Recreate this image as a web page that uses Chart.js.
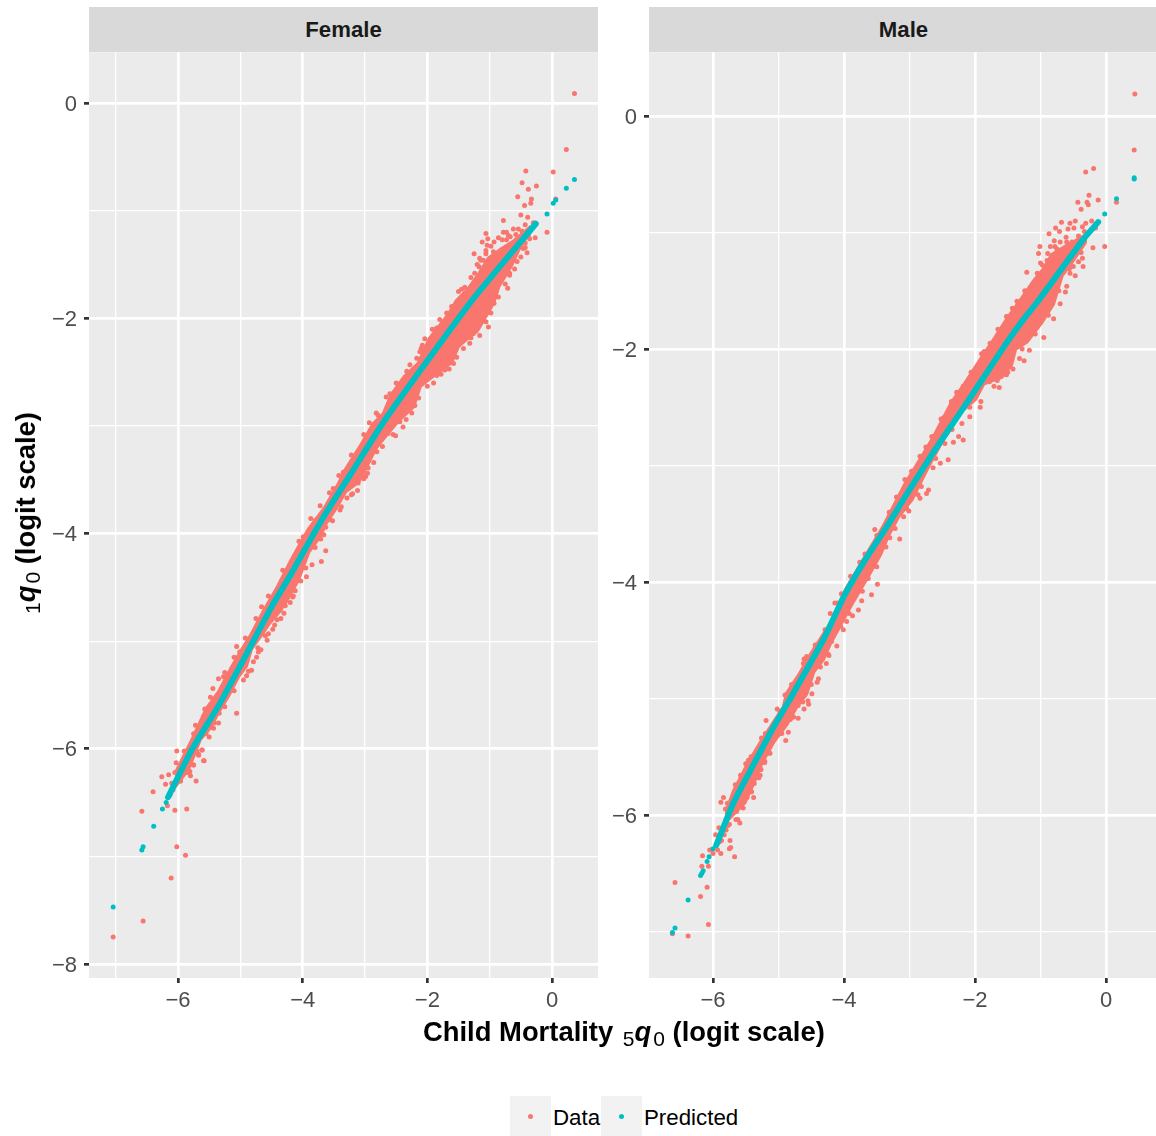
<!DOCTYPE html>
<html lang="en">
<head>
<meta charset="UTF-8">
<title>Child mortality vs infant mortality</title>
<script src="https://cdn.jsdelivr.net/npm/chart.js@4/dist/chart.umd.min.js"></script>
<style>
html, body { overflow: hidden; }
body { margin: 0; background: #fff; font-family: "Liberation Sans", Arial, sans-serif; }
canvas { position: absolute; }
.strip { position: absolute; top: 7px; height: 45px; line-height: 45px; background: #D9D9D9; color: #1A1A1A; font-size: 22.2px; font-weight: bold; text-align: center; }
.title { position: absolute; color: #000; font-size: 27.4px; font-weight: bold; white-space: pre; line-height: 32px; }
.title sub { font-size: 21px; font-weight: normal; vertical-align: -5px; line-height: 0; margin: 0 0 0 2px; }
.title i { font-weight: bold; font-style: italic; }
.key { position: absolute; top: 1096px; width: 41px; height: 40px; background: #F2F2F2; }
.key span { position: absolute; left: 18px; top: 18px; width: 5px; height: 5px; border-radius: 50%; }
.lab { position: absolute; top: 1105px; font-size: 22.3px; line-height: 26px; color: #000; }
</style>
</head>
<body>
<canvas id="female" style="left:40px;top:32px"></canvas>
<canvas id="male" style="left:600px;top:32px"></canvas>
<div class="strip" style="left:89px;width:509px">Female</div>
<div class="strip" style="left:649px;width:507px;text-indent:2px">Male</div>
<div class="title" style="left:423px;top:1016px">Child Mortality <sub>5</sub><i>q</i><sub>0</sub> (logit scale)</div>
<div class="title" style="left:26px;top:514px;transform:translate(-50%,-50%) rotate(-90deg)"><sub>1</sub><i>q</i><sub>0</sub> (logit scale)</div>
<div class="key" style="left:510px"><span style="background:#F8766D"></span></div>
<div class="lab" style="left:553px">Data</div>
<div class="key" style="left:601px"><span style="background:#00BFC4"></span></div>
<div class="lab" style="left:644px">Predicted</div>
<script>
// axis ticks
const femaleXTicks = [-7, -6, -5, -4, -3, -2, -1, 0];
const femaleYTicks = [-8, -7, -6, -5, -4, -3, -2, -1, 0];
const maleXTicks = [-6, -5, -4, -3, -2, -1, 0];
const maleYTicks = [-7, -6, -5, -4, -3, -2, -1, 0];

// Female: predicted
const femalePredictedBand = [[-6.16,-6.45],[-5.78,-6.01],[-5.33,-5.58],[-4.93,-5.15],[-4.48,-4.66],[-4.20,-4.39],[-3.93,-4.11],[-3.67,-3.85],[-3.19,-3.41],[-2.71,-2.97],[-2.07,-2.45],[-1.28,-1.83],[-0.26,-1.12]];
const femalePredictedTail = [[-7.04,-7.47],[-6.58,-6.94],[-6.56,-6.91],[-6.39,-6.72],[-6.25,-6.56],[-6.19,-6.50],[-0.08,-1.03],[0.02,-0.93],[0.06,-0.90],[0.23,-0.79],[0.36,-0.71]];

// Female: outline of the solid part of the data cloud
const femaleCloudUpper = [[-6.05,-6.20],[-5.81,-5.92],[-5.65,-5.72],[-5.57,-5.62],[-5.37,-5.46],[-5.17,-5.24],[-5.01,-5.08],[-4.85,-4.93],[-4.65,-4.71],[-4.44,-4.50],[-4.20,-4.23],[-3.93,-3.95],[-3.67,-3.75],[-3.45,-3.53],[-3.35,-3.41],[-3.08,-3.16],[-2.89,-2.97],[-2.73,-2.88],[-2.60,-2.70],[-2.39,-2.53],[-2.17,-2.41],[-1.99,-2.18],[-1.68,-1.95],[-1.56,-1.83],[-1.36,-1.71],[-1.20,-1.58],[-1.04,-1.43],[-0.83,-1.34],[-0.63,-1.27],[-0.35,-1.13]];
const femaleCloudLower = [[-6.05,-6.38],[-5.81,-6.20],[-5.62,-5.92],[-5.45,-5.81],[-5.33,-5.67],[-5.17,-5.52],[-5.01,-5.34],[-4.88,-5.24],[-4.80,-5.08],[-4.65,-4.96],[-4.52,-4.85],[-4.36,-4.74],[-4.25,-4.65],[-4.04,-4.43],[-3.88,-4.18],[-3.69,-4.03],[-3.61,-3.92],[-3.45,-3.78],[-3.29,-3.62],[-3.08,-3.53],[-2.92,-3.35],[-2.81,-3.22],[-2.60,-3.07],[-2.44,-2.96],[-2.20,-2.83],[-2.09,-2.64],[-1.85,-2.53],[-1.59,-2.42],[-1.48,-2.27],[-1.16,-2.11],[-0.91,-1.86],[-0.83,-1.71],[-0.63,-1.52],[-0.51,-1.37],[-0.35,-1.21]];

// Female: separate data points around the cloud
const femaleData = [
  [0.36,0.09],[0.23,-0.43],[0.02,-0.64],[-0.42,-0.63],[-0.48,-0.74],[-0.38,-0.80],[-0.25,-0.77],[-0.55,-0.87],[-0.33,-0.89],[-0.34,-0.93],
  [-0.44,-0.95],[0.06,-0.89],[-0.50,-1.04],[-0.39,-1.06],[-0.78,-1.09],[-0.43,-1.13],[-0.30,-1.11],[-0.08,-1.20],[-0.27,-1.25],[-0.36,-1.26],
  [-0.54,-1.17],[-0.48,-1.19],[-1.06,-1.21],[-0.78,-1.20],[-0.73,-1.20],[-0.86,-1.25],[-1.12,-1.29],[-1.03,-1.26],[-0.93,-1.29],[-1.04,-1.32],
  [-1.25,-1.40],[-1.06,-1.40],[-1.16,-1.44],[-1.17,-1.52],[-0.40,-1.39],[-0.43,-1.34],[-0.50,-1.43],[-0.60,-1.54],[-0.68,-1.60],[-0.71,-1.72],
  [-0.93,-1.86],[-1.61,-1.89],[-1.40,-1.71],[-1.24,-1.58],[-1.10,-1.46],[-0.94,-1.38],[-0.89,-1.74],[-0.78,-1.61],[-0.62,-1.46],[-0.46,-1.35],
  [-0.73,-1.27],[-0.57,-1.27],[-0.67,-1.24],
  [-7.04,-7.75],[-6.56,-7.60],[-6.11,-7.20],[-5.88,-6.99],[-6.02,-6.91],[-6.58,-6.58],[-6.17,-6.53],[-6.05,-6.57],[-5.86,-6.56],[-6.40,-6.40],
  [-6.26,-6.26],[-6.15,-6.24],[-6.20,-6.33],[-6.10,-6.32],[-6.05,-6.22],[-5.96,-6.30],[-5.71,-6.30],[-5.80,-6.25],[-5.81,-6.21],[-5.90,-6.21],
  [-5.75,-6.15],[-6.03,-6.13],[-5.59,-6.11],[-5.67,-6.05],[-5.61,-6.01],[-6.02,-6.02],[-6.08,-6.38],[-6.13,-6.43],
  [-5.06,-5.67],[-5.44,-5.44],[-5.35,-5.35],[-5.25,-5.29],[-5.06,-5.05],[-5.01,-5.10],[-4.90,-5.32],[-4.82,-5.27],[-4.79,-5.19],[-4.74,-5.15],
  [-4.71,-5.10],[-4.67,-5.08],[-4.57,-4.99],[-4.55,-4.93],[-4.48,-4.89],[-4.41,-4.80],[-4.35,-4.79],[-4.36,-4.71],[-4.28,-4.67],[-4.20,-4.64],
  [-5.35,-5.76],[-5.34,-5.67],[-5.43,-5.81],[-5.55,-5.86],[-5.62,-6.01],[-5.67,-6.06],[-5.58,-6.11],[-5.75,-6.15],[-5.75,-5.86],[-5.59,-5.70],
  [-5.57,-5.63],[-4.66,-4.68],[-4.80,-4.93],
  [-2.96,-3.44],[-3.02,-3.49],[-3.20,-3.63],[-3.29,-3.67],[-3.40,-3.78],[-3.56,-3.87],[-3.63,-3.94],[-3.71,-4.05],[-3.63,-4.16],[-3.70,-4.26],
  [-3.85,-4.29],[-3.94,-4.40],[-4.03,-4.44],[-4.12,-4.53],[-4.16,-4.59],[-3.99,-4.03],[-4.09,-4.17],[-3.80,-3.88],[-3.51,-3.58],[-3.11,-3.53],
  [-2.51,-3.09],[-2.39,-3.01],[-1.72,-2.48],[-1.85,-2.53],[-1.02,-2.08],[-1.32,-2.23],[-1.16,-2.16],[-0.94,-1.86],[-1.10,-2.02],[-2.95,-3.39],
  [-2.04,-2.19],[-2.08,-2.25],[-2.12,-2.31],[-2.17,-2.37],[-2.33,-2.49],[-2.60,-2.70],[-2.79,-2.90],[-2.91,-3.04],[-3.16,-3.29],[-3.35,-3.43],
  [-1.69,-1.95],[-1.85,-2.09],[-1.58,-2.42],[-1.61,-2.36],[-1.26,-2.14],[-1.48,-2.19],[-2.09,-2.57],[-2.20,-2.81],[-2.44,-2.96],[-2.63,-3.07],[-2.81,-3.24],
  [-5.90,-6.02],[-5.72,-5.78],[-5.48,-5.52],[-5.27,-5.33],[-5.10,-5.15],[-4.92,-4.97],[-4.75,-4.79],[-4.55,-4.58],[-4.32,-4.34],[-4.06,-4.07],
  [-3.87,-3.86],[-3.72,-3.74],[-3.57,-3.62],[-3.42,-3.46],[-3.22,-3.27],[-3.02,-3.08],[-2.93,-2.97],[-2.82,-2.88],[-2.66,-2.73],[-2.50,-2.60],
  [-2.28,-2.43],[-2.10,-2.28],[-1.92,-2.10],[-1.80,-2.01],[-1.50,-1.75],[-1.45,-1.73],[-1.30,-1.62],[-1.14,-1.46],[-1.20,-1.50],[-0.98,-1.33],
  [-1.06,-1.37],[-0.80,-1.27],[-0.70,-1.23],[-0.62,-1.17],[-0.58,-1.22],
  [-5.96,-6.30],[-5.85,-6.22],[-5.70,-6.02],[-5.50,-5.89],[-5.42,-5.76],[-5.25,-5.61],[-5.10,-5.46],[-4.95,-5.36],[-4.87,-5.28],[-4.72,-5.06],
  [-4.60,-4.95],[-4.45,-4.85],[-4.30,-4.74],[-4.15,-4.58],[-3.95,-4.32],[-3.80,-4.13],[-3.66,-4.01],[-3.52,-3.88],[-3.38,-3.75],[-3.22,-3.64],
  [-3.12,-3.60],[-2.99,-3.47],[-2.86,-3.34],[-2.72,-3.19],[-2.55,-3.08],[-2.34,-2.94],[-2.25,-2.88],[-2.14,-2.74],[-2.00,-2.63],[-1.90,-2.60],
  [-1.78,-2.52],[-1.65,-2.47],[-1.53,-2.36],[-1.42,-2.28],[-1.30,-2.18],[-1.22,-2.12],[-1.06,-2.03],[-0.98,-1.95],[-0.86,-1.80],[-0.75,-1.68],
  [-0.68,-1.58],[-0.56,-1.47],[-0.43,-1.30],[-0.38,-1.23]
];

// Male: predicted
const malePredictedBand = [[-5.95,-6.26],[-5.69,-5.90],[-5.44,-5.63],[-5.10,-5.27],[-4.80,-4.98],[-4.32,-4.50],[-3.98,-4.10],[-3.71,-3.84],[-3.32,-3.50],[-3.07,-3.27],[-2.64,-2.89],[-2.34,-2.64],[-1.97,-2.33],[-1.51,-1.94],[-1.24,-1.73],[-1.04,-1.59],[-0.35,-1.06],[-0.12,-0.91]];
const malePredictedTail = [[-6.62,-7.01],[-6.58,-6.97],[-6.38,-6.73],[-6.19,-6.52],[-6.17,-6.50],[-6.15,-6.48],[-6.09,-6.40],[-6.06,-6.36],[-6.00,-6.29],[-0.02,-0.84],[0.16,-0.71],[0.43,-0.53],[0.43,-0.54]];

// Male: outline of the solid part of the data cloud
const maleCloudUpper = [[-5.82,-5.96],[-5.71,-5.79],[-5.49,-5.55],[-5.31,-5.38],[-5.08,-5.18],[-4.95,-5.07],[-4.90,-4.95],[-4.70,-4.78],[-4.52,-4.60],[-4.37,-4.47],[-4.21,-4.33],[-4.01,-4.07],[-3.76,-3.83],[-3.60,-3.68],[-3.42,-3.51],[-3.20,-3.27],[-3.09,-3.15],[-2.84,-2.92],[-2.66,-2.75],[-2.38,-2.45],[-2.18,-2.29],[-1.95,-2.09],[-1.77,-1.94],[-1.52,-1.72],[-1.34,-1.58],[-1.13,-1.41],[-0.96,-1.29],[-0.85,-1.18],[-0.65,-1.11],[-0.29,-1.00]];
const maleCloudLower = [[-5.82,-6.09],[-5.59,-5.96],[-5.49,-5.90],[-5.33,-5.70],[-5.23,-5.56],[-5.05,-5.38],[-4.85,-5.23],[-4.70,-5.08],[-4.55,-4.97],[-4.44,-4.78],[-4.29,-4.67],[-4.19,-4.54],[-3.86,-4.20],[-3.60,-3.95],[-3.42,-3.77],[-3.30,-3.61],[-3.15,-3.45],[-2.94,-3.30],[-2.71,-3.04],[-2.49,-2.81],[-2.20,-2.55],[-1.97,-2.44],[-1.85,-2.31],[-1.57,-2.25],[-1.42,-2.14],[-1.36,-2.01],[-1.19,-1.95],[-0.96,-1.78],[-0.78,-1.62],[-0.65,-1.38],[-0.47,-1.24],[-0.29,-1.09]];

// Male: separate data points around the cloud
const maleData = [
  [-6.62,-7.02],[-6.38,-7.04],[-6.07,-6.94],[-6.19,-6.70],[-6.09,-6.62],[-6.58,-6.58],[-6.07,-6.44],[-6.17,-6.44],[-6.16,-6.35],[-5.67,-6.36],
  [-6.00,-6.33],[-5.88,-6.33],[-6.05,-6.30],[-5.93,-6.30],[-5.75,-6.29],[-5.73,-6.28],[-5.74,-6.22],[-5.87,-6.22],[-5.90,-6.23],[-5.83,-6.17],
  [-5.96,-6.17],[-5.80,-6.13],[-5.91,-6.11],[-5.77,-6.09],[-5.59,-6.07],[-5.65,-6.04],[-5.80,-6.04],[-5.64,-5.97],[-5.77,-5.96],[-5.81,-5.95],
  [-5.88,-5.89],[-5.84,-5.85],[-5.53,-5.89],[-5.38,-5.85],[-5.48,-5.85],[-5.42,-5.80],[-5.30,-5.68],[-5.37,-5.73],[-5.27,-5.61],[-5.50,-5.56],[-5.21,-5.55],
  [-4.11,-4.55],[-4.23,-4.63],[-4.27,-4.70],[-4.61,-4.66],[-4.39,-4.83],[-4.41,-4.86],[-4.49,-4.96],[-4.55,-5.02],[-4.54,-5.05],[-4.61,-5.09],
  [-4.70,-5.06],[-4.70,-5.17],[-4.77,-5.16],[-4.89,-5.36],[-4.85,-5.29],[-5.19,-5.19],[-5.13,-5.47],[-5.21,-5.54],[-5.27,-5.61],[-5.31,-5.68],
  [-5.46,-5.53],[-4.90,-4.97],[-4.62,-4.78],[-4.57,-4.64],[-4.98,-5.11],[-5.26,-5.34],[-4.82,-5.18],
  [-3.15,-3.63],[-3.49,-4.02],[-3.58,-4.11],[-3.73,-4.16],[-3.78,-4.24],[-3.87,-4.29],[-3.96,-4.34],[-4.01,-4.41],[-4.14,-4.18],[-4.04,-4.10],
  [-3.01,-3.39],[-3.09,-3.44],[-2.84,-3.28],[-2.74,-3.24],[-2.87,-3.25],[-3.53,-3.55],[-3.63,-3.97],[-3.76,-3.83],[-3.30,-3.62],[-4.19,-4.51],[-3.20,-3.27],[-4.21,-4.27],
  [-0.95,-1.90],[-1.17,-2.01],[-1.25,-2.10],[-1.32,-2.08],[-1.63,-2.33],[-1.71,-2.32],[-1.92,-2.50],[-1.91,-2.45],[-2.41,-2.95],[-2.18,-2.78],
  [-2.33,-2.80],[-2.08,-2.58],[-2.20,-2.64],[-2.25,-2.75],[-1.90,-2.04],[-1.92,-2.11],[-1.52,-1.72],[-1.77,-1.95],[-1.64,-1.87],[-1.36,-1.59],
  [-2.18,-2.32],[-2.36,-2.45],[-2.48,-2.59],[-2.66,-2.75],[-2.84,-2.92],[-3.07,-3.12],[-2.71,-3.21],[-1.47,-2.15],[-1.42,-2.17],[-1.62,-2.24],
  [-1.52,-2.22],[-2.46,-2.81],[-2.53,-2.98],[-2.64,-3.02],
  [0.44,0.19],[0.43,-0.29],[-0.31,-0.48],[-0.19,-0.45],[-0.26,-0.68],[-0.12,-0.72],[-0.29,-0.74],[-0.27,-0.76],[-0.43,-0.74],[-0.38,-0.80],
  [0.16,-0.74],[-0.47,-0.90],[-0.22,-0.90],[-0.68,-0.91],[-0.55,-0.92],[-0.31,-0.92],[-0.77,-0.96],[-0.58,-0.97],[-0.49,-0.96],[-0.36,-0.95],
  [-0.71,-0.99],[-0.87,-1.01],[-0.61,-1.04],[-0.16,-0.96],[-0.41,-1.05],[-0.79,-1.07],[-0.48,-1.09],[-1.01,-1.12],[-0.85,-1.12],[-0.78,-1.12],
  [-0.20,-1.13],[-0.02,-1.12],[-1.03,-1.18],[-0.89,-1.18],[-0.97,-1.28],[-1.21,-1.34],[-0.36,-1.22],[-0.42,-1.25],[-0.35,-1.29],[-0.50,-1.29],
  [-0.47,-1.37],[-0.55,-1.35],[-0.60,-1.46],[-0.62,-1.51],[-1.51,-1.72],[-1.34,-1.61],[-0.70,-1.61],[-0.80,-1.74],
  [-5.78,-5.90],[-5.66,-5.74],[-5.58,-5.66],[-5.42,-5.50],[-5.20,-5.30],[-5.02,-5.09],[-4.80,-4.88],[-4.62,-4.70],[-4.44,-4.54],[-4.29,-4.41],
  [-4.10,-4.18],[-3.90,-3.95],[-3.68,-3.76],[-3.50,-3.60],[-3.31,-3.40],[-2.97,-3.05],[-2.75,-2.84],[-2.52,-2.60],[-2.28,-2.37],[-2.06,-2.20],
  [-1.86,-2.02],[-1.65,-1.83],[-1.43,-1.65],[-1.24,-1.50],[-1.05,-1.35],[-0.90,-1.24],[-1.00,-1.26],[-0.75,-1.14],[-0.60,-1.08],[-0.70,-1.08],
  [-0.52,-1.08],[-0.42,-1.03],[-0.33,-0.99],
  [-5.75,-6.08],[-5.62,-6.04],[-5.54,-5.94],[-5.41,-5.80],[-5.28,-5.66],[-5.14,-5.47],[-4.95,-5.30],[-4.78,-5.16],[-4.63,-5.03],[-4.50,-4.88],
  [-4.36,-4.73],[-4.24,-4.62],[-4.05,-4.38],[-3.92,-4.27],[-3.72,-4.08],[-3.50,-3.87],[-3.36,-3.70],[-3.22,-3.54],[-3.04,-3.37],[-2.82,-3.18],
  [-2.60,-2.94],[-2.35,-2.69],[-2.08,-2.50],[-1.78,-2.28],[-1.66,-2.27],[-1.50,-2.20],[-1.28,-2.00],[-1.08,-1.87],[-0.88,-1.71],[-0.72,-1.50],
  [-0.56,-1.31],[-0.38,-1.17]
];

const DATA_COLOR = '#F8766D';
const PRED_COLOR = '#00BFC4';

const toPoints = pairs => pairs.map(p => ({ x: p[0], y: p[1] }));
const isMajor = v => v % 2 === 0;
const tickText = v => isMajor(v) ? (v < 0 ? '\u2212' + (-v) : String(v)) : '';

// grey panel behind the grid
const panelBg = {
  id: 'panelBg',
  beforeDraw(chart) {
    const a = chart.chartArea, c = chart.ctx;
    c.save();
    c.fillStyle = '#EBEBEB';
    c.fillRect(a.left, a.top, a.right - a.left, a.bottom - a.top);
    c.restore();
  }
};

function axis(min, max, tickList, fitKey, fitSize, padding, labelOffset) {
  return {
    type: 'linear',
    min: min,
    max: max,
    afterBuildTicks: s => { s.ticks = tickList.map(v => ({ value: v })); },
    afterFit: s => { s[fitKey] = fitSize; },
    border: { display: false },
    grid: {
      color: '#FFFFFF',
      lineWidth: c => isMajor(c.tick.value) ? 2.7 : 1.3,
      tickLength: 5,
      tickWidth: c => isMajor(c.tick.value) ? 2.7 : 0,
      tickColor: c => isMajor(c.tick.value) ? '#333333' : 'rgba(0,0,0,0)'
    },
    ticks: {
      autoSkip: false,
      maxRotation: 0,
      padding: padding,
      labelOffset: labelOffset,
      color: '#4D4D4D',
      font: { family: '"Liberation Sans"', size: 22 },
      callback: v => tickText(v)
    }
  };
}

function drawPanel(id, w, cfg) {
  const el = document.getElementById(id);
  el.width = w;
  el.height = 996;
  el.style.width = w + 'px';
  el.style.height = '996px';
  return new Chart(el, {
    type: 'scatter',
    plugins: [panelBg],
    data: {
      datasets: [
        { type: 'line', label: 'Predicted', data: toPoints(cfg.band), order: 0, borderColor: PRED_COLOR, borderWidth: 6, pointRadius: 0, borderCapStyle: 'round', fill: false, tension: 0.2 },
        { label: 'Predicted tail', data: toPoints(cfg.tail), order: 1, backgroundColor: PRED_COLOR, pointRadius: 2.5, pointBorderWidth: 0 },
        { label: 'Data', data: toPoints(cfg.points), order: 2, backgroundColor: DATA_COLOR, pointRadius: 2.5, pointBorderWidth: 0 },
        { type: 'line', label: 'Data upper', data: toPoints(cfg.upper), order: 3, borderWidth: 0, borderColor: DATA_COLOR, backgroundColor: DATA_COLOR, pointRadius: 0, fill: '+1', tension: 0 },
        { type: 'line', label: 'Data lower', data: toPoints(cfg.lower), order: 4, borderWidth: 0, borderColor: DATA_COLOR, pointRadius: 0, fill: false, tension: 0 }
      ]
    },
    options: {
      responsive: false,
      animation: false,
      layout: { padding: { top: 20, left: 0, right: 0, bottom: 0 } },
      plugins: { legend: { display: false }, tooltip: { enabled: false } },
      scales: {
        x: axis(cfg.xMin, cfg.xMax, cfg.xTicks, 'height', 50, 5, 0),
        y: axis(cfg.yMin, cfg.yMax, cfg.yTicks, 'width', 49, 7, 1.5)
      }
    }
  });
}

drawPanel('female', 562, {
  band: femalePredictedBand, tail: femalePredictedTail, points: femaleData,
  upper: femaleCloudUpper, lower: femaleCloudLower,
  xMin: -7.428, xMax: 0.738, yMin: -8.13, yMax: 0.474,
  xTicks: femaleXTicks, yTicks: femaleYTicks
});

drawPanel('male', 560, {
  band: malePredictedBand, tail: malePredictedTail, points: maleData,
  upper: maleCloudUpper, lower: maleCloudLower,
  xMin: -6.977, xMax: 0.763, yMin: -7.4, yMax: 0.549,
  xTicks: maleXTicks, yTicks: maleYTicks
});
</script>
</body>
</html>
